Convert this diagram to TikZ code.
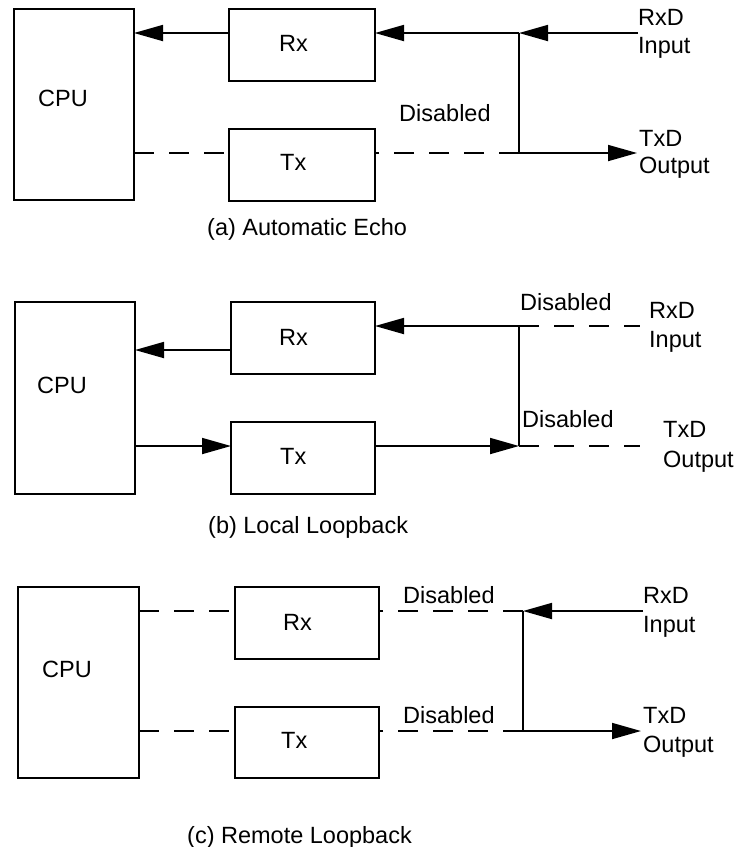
\documentclass[tikz,border=0pt]{standalone}
\usepackage{fontspec}
\setmainfont{Liberation Sans}
\usetikzlibrary{arrows.meta}
\begin{document}
\begin{tikzpicture}[x=1pt,y=-1pt,
  font=\fontsize{23.5}{27}\selectfont,
  box/.style={draw, line width=1.8pt, rectangle, inner sep=0pt, outer sep=0pt},
  txt/.style={anchor=base west, inner sep=0pt},
  wire/.style={line width=1.8pt},
  dis/.style={wire, dash pattern=on 20pt off 15pt},
  arr/.style={wire, -{Triangle[length=29pt,width=16pt]}}]
\useasboundingbox (0,0) rectangle (735,847);

% ---------- (a) Automatic Echo ----------
\node[box, minimum width=120pt, minimum height=191pt] (cpua) at (74,104.5) {};
\node[box, minimum width=146pt, minimum height=72pt] (rxa) at (302,45) {};
\node[box, minimum width=146pt, minimum height=72pt] (txa) at (302,165) {};
\node[txt] (cpuat) at (38,106) {CPU};
\node[txt] (rxat) at (279,51) {Rx};
\node[txt] (txat) at (280,170) {Tx};
\coordinate (ja) at (519,33);
\coordinate (jb) at (519,153);
\coordinate (ia) at (638,33);
\coordinate (oa) at (637,153);
\draw[arr] (rxa.west |- ja) -- (cpua.east |- ja);
\draw[arr] (ia) -- (ja);
\draw[arr] (ja) -- (rxa.east |- ja);
\draw[wire] (ja) -- (jb);
\draw[arr] (jb) -- (oa);
\draw[dis] (cpua.east |- jb) -- (txa.west |- jb);
\draw[dis] (jb) -- (txa.east |- jb);
\node[txt] (disa) at (399,121) {Disabled};
\node[txt] (rxda) at (638,25) {RxD};
\node[txt] (ina) at (638,53) {Input};
\node[txt] (txda) at (639,146) {TxD};
\node[txt] (outa) at (639,173) {Output};
\node[txt] (capa) at (207,235) {(a) Automatic Echo};

% ---------- (b) Local Loopback ----------
\node[box, minimum width=120pt, minimum height=192pt] (cpub) at (75,398) {};
\node[box, minimum width=144pt, minimum height=72pt] (rxb) at (303,338) {};
\node[box, minimum width=144pt, minimum height=72pt] (txb) at (303,458) {};
\node[txt] (cpubt) at (37,393) {CPU};
\node[txt] (rxbt) at (279,345) {Rx};
\node[txt] (txbt) at (280,464) {Tx};
\coordinate (jc) at (519,326);
\coordinate (jd) at (519,446);
\coordinate (ib) at (640,326);
\coordinate (ob) at (640,446);
\draw[arr] ([yshift=-12pt]rxb.west) -- ([yshift=-12pt]rxb.west -| cpub.east);
\draw[arr] (cpub.east |- jd) -- (txb.west |- jd);
\draw[arr] (jc) -- (rxb.east |- jc);
\draw[wire] (jc) -- (jd);
\draw[arr] (txb.east |- jd) -- (jd);
\draw[dis] (jc) -- (ib);
\draw[dis] (jd) -- (ob);
\node[txt] (disb1) at (520,310) {Disabled};
\node[txt] (disb2) at (522,427) {Disabled};
\node[txt] (rxdb) at (649,318) {RxD};
\node[txt] (inb) at (649,347) {Input};
\node[txt] (txdb) at (663,437) {TxD};
\node[txt] (outb) at (663,467) {Output};
\node[txt] (capb) at (208,533) {(b) Local Loopback};

% ---------- (c) Remote Loopback ----------
\node[box, minimum width=121pt, minimum height=191pt] (cpuc) at (78.5,682.5) {};
\node[box, minimum width=144pt, minimum height=72pt] (rxc) at (307,623) {};
\node[box, minimum width=144pt, minimum height=71pt] (txc) at (307,742.5) {};
\node[txt] (cpuct) at (42,677) {CPU};
\node[txt] (rxct) at (283,630) {Rx};
\node[txt] (txct) at (281,748) {Tx};
\coordinate (je) at (523,611);
\coordinate (jf) at (523,731);
\coordinate (ic) at (643,611);
\coordinate (oc) at (641,731);
\draw[dis] (cpuc.east |- je) -- (rxc.west |- je);
\draw[dis] (cpuc.east |- jf) -- (txc.west |- jf);
\draw[dis] (je) -- (rxc.east |- je);
\draw[dis] (jf) -- (txc.east |- jf);
\draw[arr] (ic) -- (je);
\draw[wire] (je) -- (jf);
\draw[arr] (jf) -- (oc);
\node[txt] (disc1) at (403,603) {Disabled};
\node[txt] (disc2) at (403,723) {Disabled};
\node[txt] (rxdc) at (643,603) {RxD};
\node[txt] (inc) at (643,632) {Input};
\node[txt] (txdc) at (643,723) {TxD};
\node[txt] (outc) at (643,752) {Output};
\node[txt] (capc) at (187,843) {(c) Remote Loopback};
\end{tikzpicture}
\end{document}
